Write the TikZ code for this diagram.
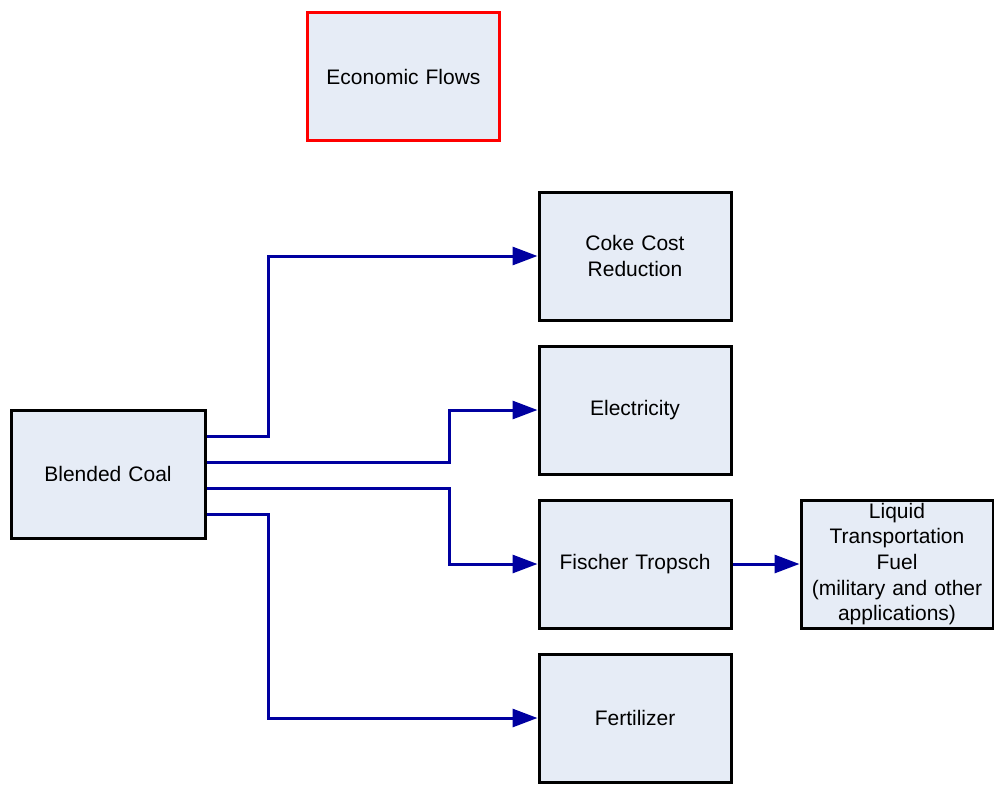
\documentclass[tikz,border=0pt]{standalone}
\usepackage{fontspec}
\setmainfont{Liberation Sans}
\usetikzlibrary{arrows.meta}
\definecolor{boxfill}{RGB}{230,236,246}
\definecolor{flow}{RGB}{0,0,160}
\begin{document}
\begin{tikzpicture}[x=1pt,y=-1pt,
  box/.style={draw=black,line width=3pt,fill=boxfill,minimum width=192pt,minimum height=128pt,
    inner sep=0pt,align=center,text width=185pt,font=\fontsize{21}{25.6}\selectfont},
  flowline/.style={draw=flow,line width=3pt,-{Triangle[length=25pt,width=18pt]}}]
\useasboundingbox (0,0) rectangle (994,788);
\node[box,draw=red] (econ) at (403.5,76.5) {Economic Flows};
\node[box] (coke) at (635,256) {Coke Cost\\Reduction};
\node[box] (elec) at (635,410) {Electricity};
\node[box] (ft) at (635,564) {Fischer Tropsch};
\node[box] (fert) at (635,718) {Fertilizer};
\node[box,minimum width=194pt] (coal) at (108,474) {Blended Coal};
\node[box] (liq) at (897,564) {Liquid\\Transportation\\Fuel\\(military and other\\applications)};
\draw[flowline] (coal.east |- 0,436) -- (268,436) |- (coke.west);
\draw[flowline] (coal.east |- 0,462) -- (449,462) |- (elec.west);
\draw[flowline] (coal.east |- 0,488) -- (449,488) |- (ft.west);
\draw[flowline] (coal.east |- 0,514) -- (268,514) |- (fert.west);
\draw[flowline] (ft.east) -- (liq.west);
\end{tikzpicture}
\end{document}
